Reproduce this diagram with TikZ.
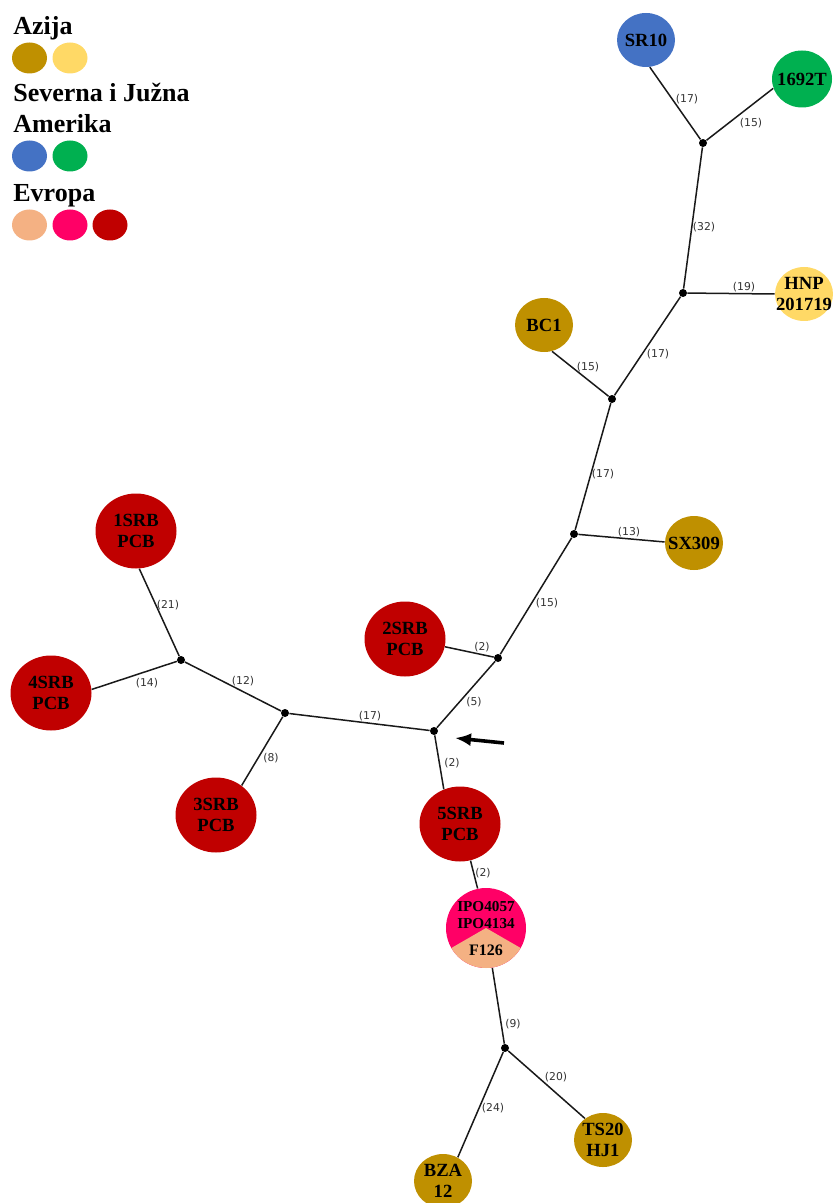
\documentclass[tikz,border=0pt]{standalone}
\usepackage{fontspec}
\setmainfont{Liberation Serif}
\newfontfamily\lblfont{DejaVu Sans}
\usetikzlibrary{shapes.geometric,arrows.meta}
\definecolor{azdark}{HTML}{BF9000}
\definecolor{azlight}{HTML}{FFD966}
\definecolor{amblue}{HTML}{4472C4}
\definecolor{amgreen}{HTML}{00B050}
\definecolor{eupeach}{HTML}{F4B183}
\definecolor{eupink}{HTML}{FF0066}
\definecolor{srbred}{HTML}{C00000}
\tikzset{
  strain/.style={ellipse, inner sep=0pt},
  strainname/.style={label={[align=center, inner sep=0pt, text=black, font=\bfseries\fontsize{9.3}{10.8}\selectfont]center:#1}},
  bignode/.style={strain, fill=srbred, minimum width=40.5pt, minimum height=37.5pt},
  smallnode/.style={strain, minimum width=29pt, minimum height=27pt},
  junc/.style={circle, fill=black, inner sep=0pt, minimum size=4pt},
  link/.style={line width=0.75pt, black!90},
  lbl/.style={font=\lblfont\fontsize{5.4}{6}\selectfont, text=black!80, inner sep=0pt},
  legdot/.style={ellipse, inner sep=0pt, minimum width=17.5pt, minimum height=15.5pt},
  legtext/.style={anchor=base west, inner sep=0pt, font=\bfseries\fontsize{13}{15}\selectfont}
}
\begin{document}
\begin{tikzpicture}[x=0.5pt, y=-0.5pt]
\useasboundingbox (0,0) rectangle (832,1203);

\node[legtext] (azija) at (13,35) {Azija};
\node[legdot, fill=azdark] (az1) at (29.5,58) {};
\node[legdot, fill=azlight] (az2) at (70,58) {};
\node[legtext] (amer1) at (13,102) {Severna i Južna};
\node[legtext] (amer2) at (13,133) {Amerika};
\node[legdot, fill=amblue] (am1) at (29.5,156) {};
\node[legdot, fill=amgreen] (am2) at (70,156) {};
\node[legtext] (evropa) at (13,202) {Evropa};
\node[legdot, fill=eupeach] (eu1) at (29.5,225) {};
\node[legdot, fill=eupink] (eu2) at (70,225) {};
\node[legdot, fill=srbred] (eu3) at (110,225) {};

\node[smallnode, fill=amblue, strainname=SR10] (sr10) at (646,40) {};
\node[smallnode, fill=amgreen, minimum width=30pt, minimum height=28.5pt, strainname=1692T] (t1692) at (802,79) {};
\node[junc] (j1) at (703,143) {};
\node[junc] (j2) at (683,293) {};
\node[smallnode, fill=azlight, strainname={HNP\\201719}] (hnp) at (804,294) {};
\node[smallnode, fill=azdark, strainname=BC1] (bc1) at (544,325) {};
\node[junc] (j3) at (612,399) {};
\node[junc] (j4) at (574,534) {};
\node[smallnode, fill=azdark, strainname=SX309] (sx309) at (694,543) {};
\node[junc] (j5) at (498,658) {};
\node[bignode, strainname={2SRB\\PCB}] (srb2) at (405,639) {};
\node[junc] (j6) at (434,731) {};
\node[bignode, strainname={5SRB\\PCB}] (srb5) at (460,824) {};

\fill[eupink] (486,928) circle[radius=20pt];
\fill[eupeach] (486,928) -- ++(210:20pt) arc[start angle=210, end angle=330, radius=20pt] -- cycle;
\node[circle, minimum size=40pt, inner sep=0pt] (ipo) at (486,928) {};
\node[font=\bfseries\fontsize{7.6}{8.5}\selectfont, align=center, inner sep=0pt] (ipotxt) at (486,915.5) {IPO4057\\IPO4134};
\node[font=\bfseries\fontsize{8}{9}\selectfont, inner sep=0pt] (f126) at (486,950) {F126};

\node[junc] (j7) at (505,1048) {};
\node[smallnode, fill=azdark, strainname={TS20\\HJ1}] (ts20) at (603,1140) {};
\node[smallnode, fill=azdark, strainname={BZA\\12}] (bza) at (443,1181) {};
\node[junc] (j8) at (285,713) {};
\node[junc] (j9) at (181,660) {};
\node[bignode, strainname={1SRB\\PCB}] (srb1) at (136,531) {};
\node[bignode, strainname={4SRB\\PCB}] (srb4) at (51,693) {};
\node[bignode, strainname={3SRB\\PCB}] (srb3) at (216,815) {};

\draw[link] (sr10.-82) -- (j1);
\draw[link] (t1692.-162) -- (j1);
\draw[link] (j1) -- (j2);
\draw[link] (j2) -- (hnp.180);
\draw[link] (j2) -- (j3);
\draw[link] (bc1.-73) -- (j3);
\draw[link] (j3) -- (j4);
\draw[link] (j4) -- (sx309.178);
\draw[link] (j4) -- (j5);
\draw[link] (srb2.-11) -- (j5);
\draw[link] (j5) -- (j6);
\draw[link] (j6) -- (srb5.115);
\draw[link] (srb5.-74) -- (ipo.102);
\draw[link] (ipo.-81) -- (j7);
\draw[link] (j7) -- (ts20.130);
\draw[link] (j7) -- (bza.58);
\draw[link] (j6) -- (j8);
\draw[link] (j8) -- (j9);
\draw[link] (j8) -- (srb3.49);
\draw[link] (j9) -- (srb1.-85);
\draw[link] (j9) -- (srb4.5);

\node[lbl] (l1) at (687,99) {(17)};
\node[lbl] (l2) at (751,123) {(15)};
\node[lbl] (l3) at (704,227) {(32)};
\node[lbl] (l4) at (744,287) {(19)};
\node[lbl] (l5) at (658,354) {(17)};
\node[lbl] (l6) at (588,367) {(15)};
\node[lbl] (l7) at (603,474) {(17)};
\node[lbl] (l8) at (629,532) {(13)};
\node[lbl] (l9) at (547,603) {(15)};
\node[lbl] (l10) at (482,647) {(2)};
\node[lbl] (l11) at (474,702) {(5)};
\node[lbl] (l12) at (452,763) {(2)};
\node[lbl] (l13) at (483,873) {(2)};
\node[lbl] (l14) at (513,1024) {(9)};
\node[lbl] (l15) at (556,1077) {(20)};
\node[lbl] (l16) at (493,1108) {(24)};
\node[lbl] (l17) at (370,716) {(17)};
\node[lbl] (l18) at (243,681) {(12)};
\node[lbl] (l19) at (271,758) {(8)};
\node[lbl] (l20) at (168,605) {(21)};
\node[lbl] (l21) at (147,683) {(14)};

\coordinate (arrtail) at (504,743);
\coordinate (arrtip) at (455,738);
\draw[-{Latex[length=8pt,width=6.5pt]}, line width=1.8pt] (arrtail) -- (arrtip);
\end{tikzpicture}
\end{document}
